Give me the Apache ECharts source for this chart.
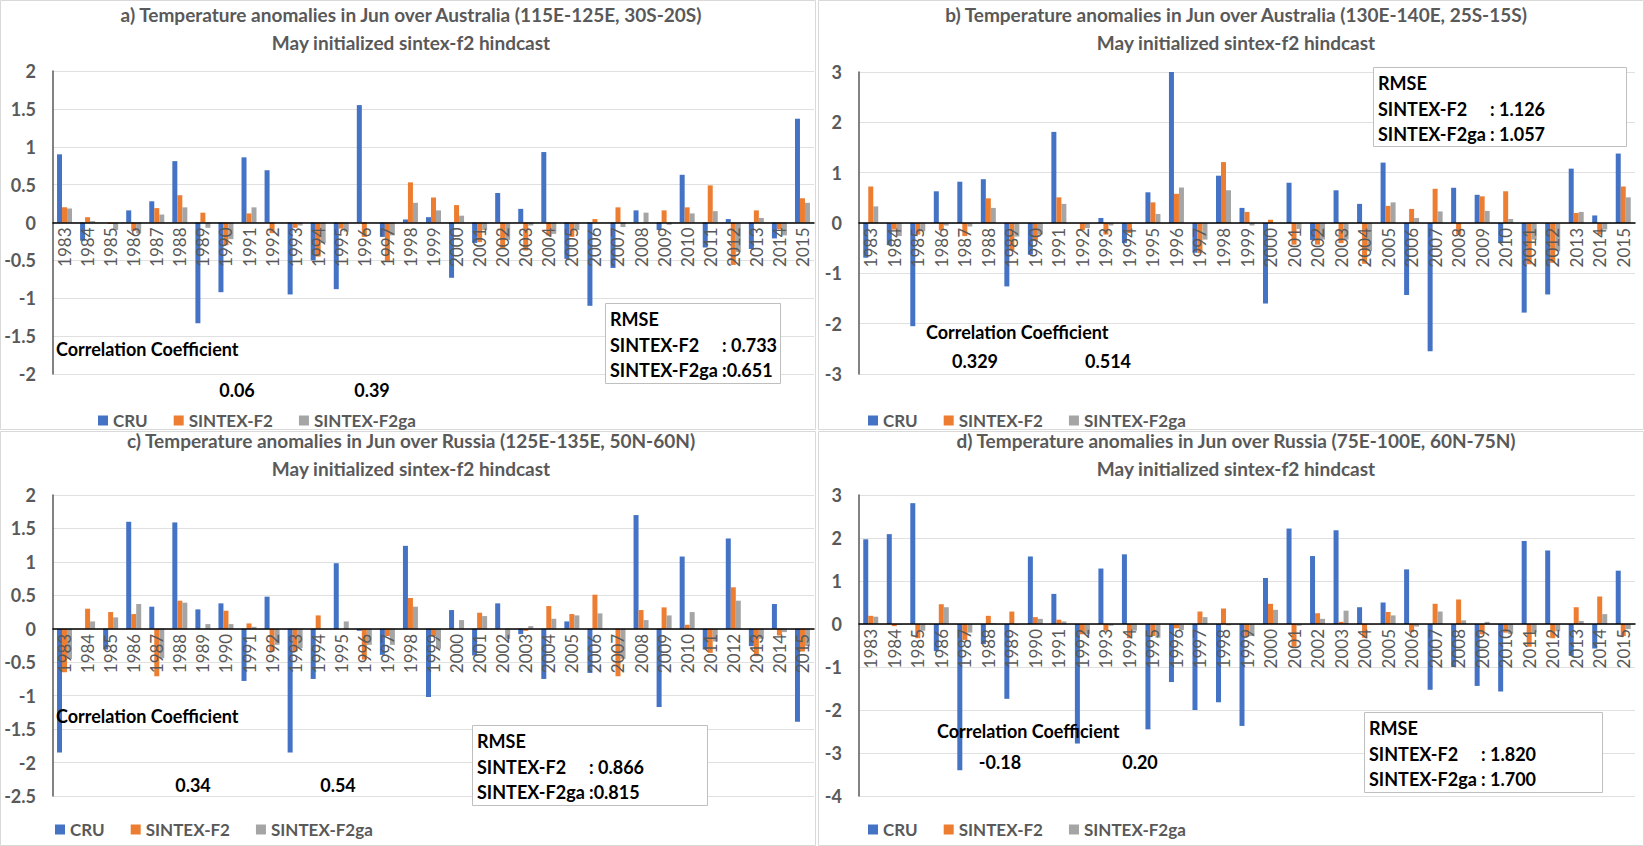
<!DOCTYPE html>
<html><head><meta charset="utf-8">
<script src="https://cdn.jsdelivr.net/npm/echarts@6/dist/echarts.min.js"></script>
<style>html,body{margin:0;padding:0;background:#fff}#c{width:1644px;height:846px}</style>
</head><body><div id="c"></div>
<script>
const years = ['1983','1984','1985','1986','1987','1988','1989','1990','1991','1992','1993','1994','1995','1996','1997','1998','1999','2000','2001','2002','2003','2004','2005','2006','2007','2008','2009','2010','2011','2012','2013','2014','2015'];
const seriesNames = ['CRU','SINTEX-F2','SINTEX-F2ga'];

// a) Australia 115E-125E, 30S-20S
const aCRU = [0.90,-0.24,0,0.16,0.28,0.81,-1.33,-0.92,0.86,0.69,-0.95,-0.50,-0.88,1.55,-0.19,0.04,0.07,-0.73,-0.27,0.39,0.18,0.93,-0.48,-1.10,-0.60,0.16,-0.10,0.63,-0.33,0.045,-0.35,-0.21,1.37];
const aF2  = [0.20,0.07,-0.02,-0.11,0.19,0.36,0.13,-0.30,0.12,-0.14,-0.07,-0.45,-0.08,-0.19,-0.52,0.53,0.33,0.23,-0.26,-0.34,-0.37,-0.17,-0.19,0.045,0.20,0,0.16,0.20,0.49,-0.56,0.16,-0.09,0.32];
const aGA  = [0.185,0.02,-0.10,-0.145,0.105,0.20,-0.07,-0.22,0.20,0,-0.04,-0.27,-0.12,0,-0.17,0.26,0.16,0.09,-0.10,-0.23,-0.04,-0.15,-0.10,0,-0.06,0.13,-0.03,0.12,0.15,-0.39,0.06,-0.17,0.26];
// b) Australia 130E-140E, 25S-15S
const bCRU = [-0.69,-0.44,-2.05,0.63,0.82,0.87,-1.26,-0.63,1.81,0,0.10,-0.40,0.61,3.0,-0.59,0.94,0.30,-1.60,0.80,-0.34,0.65,0.38,1.20,-1.43,-2.55,0.70,0.56,-0.40,-1.78,-1.42,1.08,0.15,1.38];
const bF2  = [0.725,-0.13,-0.23,-0.145,-0.26,0.49,-0.55,-0.36,0.51,-0.145,-0.23,-0.20,0.41,0.58,-0.60,1.21,0.22,0.065,-0.43,-0.43,-0.40,-0.81,0.34,0.28,0.68,-0.23,0.53,0.63,-0.82,-0.79,0.20,-0.23,0.725];
const bGA  = [0.33,-0.26,-0.165,-0.05,-0.07,0.30,-0.27,-0.23,0.38,-0.10,-0.05,0,0.18,0.705,-0.33,0.65,-0.05,0,-0.12,-0.33,-0.33,-0.56,0.41,0.10,0.23,0,0.24,0.08,-0.33,-0.56,0.22,-0.13,0.51];
// c) Russia 125E-135E, 50N-60N
const cCRU = [-1.85,0,-0.31,1.60,0.33,1.59,0.29,0.38,-0.78,0.48,-1.85,-0.75,0.98,-0.03,-0.39,1.24,-1.02,0.28,-0.40,0.38,-0.08,-0.75,0.11,-0.66,0,1.70,-1.17,1.08,-0.31,1.35,-0.26,0.37,-1.39];
const cF2  = [-0.65,0.30,0.25,0.22,-0.71,0.42,0,0.27,0.08,-0.34,-0.34,0.20,0,-0.46,-0.11,0.46,-0.11,0,0.24,0,-0.03,0.34,0.22,0.51,-0.71,0.28,0.32,0.06,-0.36,0.62,-0.41,-0.10,-0.34];
const cGA  = [-0.45,0.11,0.17,0.37,-0.44,0.39,0.07,0.07,0.03,-0.24,-0.29,0,0.11,-0.24,-0.24,0.33,-0.30,0.13,0.19,-0.15,0.04,0.15,0.20,0.23,-0.45,0.13,0.20,0.25,-0.19,0.42,-0.15,-0.05,-0.26];
// d) Russia 75E-100E, 60N-75N
const dCRU = [1.97,2.09,2.81,-0.63,-3.40,-0.47,-1.74,1.57,0.70,-2.78,1.29,1.62,-2.45,-1.35,-2.0,-1.82,-2.37,1.07,2.22,1.58,2.18,0.39,0.50,1.27,-1.53,-1.0,-1.44,-1.57,1.93,1.71,-0.74,-0.57,1.24];
const dF2  = [0.19,-0.05,-0.33,0.46,-0.37,0.19,0.29,0.16,0.10,-0.24,-0.155,-0.33,-0.28,-0.10,0.29,0.36,-0.29,0.47,-0.53,0.25,0.05,-0.32,0.28,-0.19,0.47,0.57,-0.24,-0.20,-0.53,-0.33,0.39,0.64,-0.28];
const dGA  = [0.17,-0.02,-0.155,0.39,-0.20,0.015,-0.02,0.12,0.06,-0.23,-0.04,-0.155,-0.32,-0.14,0.16,-0.03,-0.28,0.33,-0.04,0.12,0.31,0,0.20,-0.06,0.29,0.085,0.05,-0.23,-0.20,-0.17,0.07,0.23,-0.12];

const titles = [
  'a) Temperature anomalies in Jun over Australia (115E-125E, 30S-20S)',
  'b) Temperature anomalies in Jun over Australia (130E-140E, 25S-15S)',
  'c) Temperature anomalies in Jun over Russia (125E-135E, 50N-60N)',
  'd) Temperature anomalies in Jun over Russia (75E-100E, 60N-75N)'
];
const subtitle = 'May initialized sintex-f2 hindcast';
const corrValues = [['0.06','0.39'],['0.329','0.514'],['0.34','0.54'],['-0.18','0.20']];
const rmseValues = [[' 0.733','0.651'],[' 1.126',' 1.057'],[' 0.866','0.815'],[' 1.820',' 1.700']];
const yMin = [-2,-3,-2.5,-4], yMax = [2,3,2,3], yStep = [0.5,1,0.5,1];

const panelData = [[aCRU,aF2,aGA],[bCRU,bF2,bGA],[cCRU,cF2,cGA],[dCRU,dF2,dGA]];
const colors = ['#4472C4','#ED7D31','#A5A5A5'];

// layout (pixels)
const L = [
  {gx:53, gy:71, gw:761, gh:303, tx:411, ty:14, box:[0.5,0.5,815,429], cc:[56,349], cv:[237,390,372,390], rm:[605,303,175,80], lg:[98,412]},
  {gx:859, gy:72, gw:776, gh:302, tx:1236, ty:14, box:[818.5,0.5,825,429], cc:[926,332], cv:[975,361,1108,361], rm:[1373,67,253,79], lg:[868,412]},
  {gx:53, gy:495, gw:761, gh:301, tx:411, ty:440, box:[0.5,431.5,815,414], cc:[56,716], cv:[193,785,338,785], rm:[472,725,235,80], lg:[55,821]},
  {gx:859, gy:495, gw:776, gh:301, tx:1236, ty:440, box:[818.5,431.5,825,414], cc:[937,731], cv:[1000,762,1140,762], rm:[1364,712,238,80], lg:[868,821]}
];
const FF = 'Lato, "Noto Sans", sans-serif';

const grid=[], xAxis=[], yAxis=[], series=[], legend=[], graphic=[];
L.forEach((p,i)=>{
  grid.push({left:p.gx, top:p.gy, width:p.gw, height:p.gh, containLabel:false});
  const zeroOffset = -p.gh * (0 - yMin[i]) / (yMax[i] - yMin[i]);
  xAxis.push({type:'category', gridIndex:i, data:years, position:'bottom', offset:zeroOffset,
    axisLine:{onZero:false, lineStyle:{color:'#000', width:1.5}},
    axisTick:{show:false},
    axisLabel:{interval:0, rotate:90, margin:5, fontSize:17, color:'#595959', fontFamily:FF},
    z:10});
  yAxis.push({type:'value', gridIndex:i, min:yMin[i], max:yMax[i], interval:yStep[i],
    axisLine:{show:true, lineStyle:{color:'#595959', width:1.5}},
    axisTick:{show:false},
    axisLabel:{fontSize:18, fontWeight:'bold', color:'#595959', margin:17, fontFamily:FF},
    splitLine:{lineStyle:{color:'#e0e0e0', width:1}}});
  panelData[i].forEach((arr,k)=>{
    series.push({type:'bar', name:seriesNames[k], xAxisIndex:i, yAxisIndex:i, data:arr, z:1,
      barWidth:5, barGap:'0%', itemStyle:{color:colors[k]}, silent:true, animation:false});
  });
  legend.push({data:seriesNames, left:p.lg[0], top:p.lg[1], icon:'rect', itemWidth:10, itemHeight:10, itemGap:26,
    textStyle:{fontSize:17, fontWeight:'bold', color:'#595959', fontFamily:FF, lineHeight:17}, padding:0, selectedMode:false});
  graphic.push({type:'rect', shape:{x:p.box[0], y:p.box[1], width:p.box[2], height:p.box[3]}, style:{fill:'none', stroke:'#d9d9d9', lineWidth:1}, z:-10, silent:true});
  graphic.push({type:'text', x:p.tx, y:p.ty, style:{text:titles[i], font:'bold 19px '+FF, fill:'#595959', align:'center', verticalAlign:'middle'}, silent:true});
  graphic.push({type:'text', x:p.tx, y:p.ty+28, style:{text:subtitle, font:'bold 19px '+FF, fill:'#595959', align:'center', verticalAlign:'middle'}, silent:true});
  graphic.push({type:'text', x:p.cc[0], y:p.cc[1], style:{text:'Correlation Coefficient', font:'bold 18px '+FF, fill:'#000', align:'left', verticalAlign:'middle'}, z:100, silent:true});
  graphic.push({type:'text', x:p.cv[0], y:p.cv[1], style:{text:corrValues[i][0], font:'bold 18px '+FF, fill:'#000', align:'center', verticalAlign:'middle'}, z:100, silent:true});
  graphic.push({type:'text', x:p.cv[2], y:p.cv[3], style:{text:corrValues[i][1], font:'bold 18px '+FF, fill:'#000', align:'center', verticalAlign:'middle'}, z:100, silent:true});
  const r = p.rm;
  graphic.push({type:'rect', shape:{x:r[0]+0.5, y:r[1]+0.5, width:r[2], height:r[3]}, style:{fill:'#fff', stroke:'#bfbfbf', lineWidth:1}, z:90, silent:true});
  const lines = [['RMSE',''],['SINTEX-F2',':'+rmseValues[i][0]],['SINTEX-F2ga',':'+rmseValues[i][1]]];
  lines.forEach((ln,j)=>{
    graphic.push({type:'text', x:r[0]+5, y:r[1]+16+j*25.5, style:{text:ln[0], font:'bold 18px '+FF, fill:'#000', align:'left', verticalAlign:'middle'}, z:100, silent:true});
    if(ln[1]) graphic.push({type:'text', x:r[0]+117, y:r[1]+16+j*25.5, style:{text:ln[1], font:'bold 18px '+FF, fill:'#000', align:'left', verticalAlign:'middle'}, z:100, silent:true});
  });
});

const chart = echarts.init(document.getElementById('c'), null, {renderer:'svg'});
chart.setOption({animation:false, backgroundColor:'#fff', grid, xAxis, yAxis, series, legend, graphic});
</script></body></html>
